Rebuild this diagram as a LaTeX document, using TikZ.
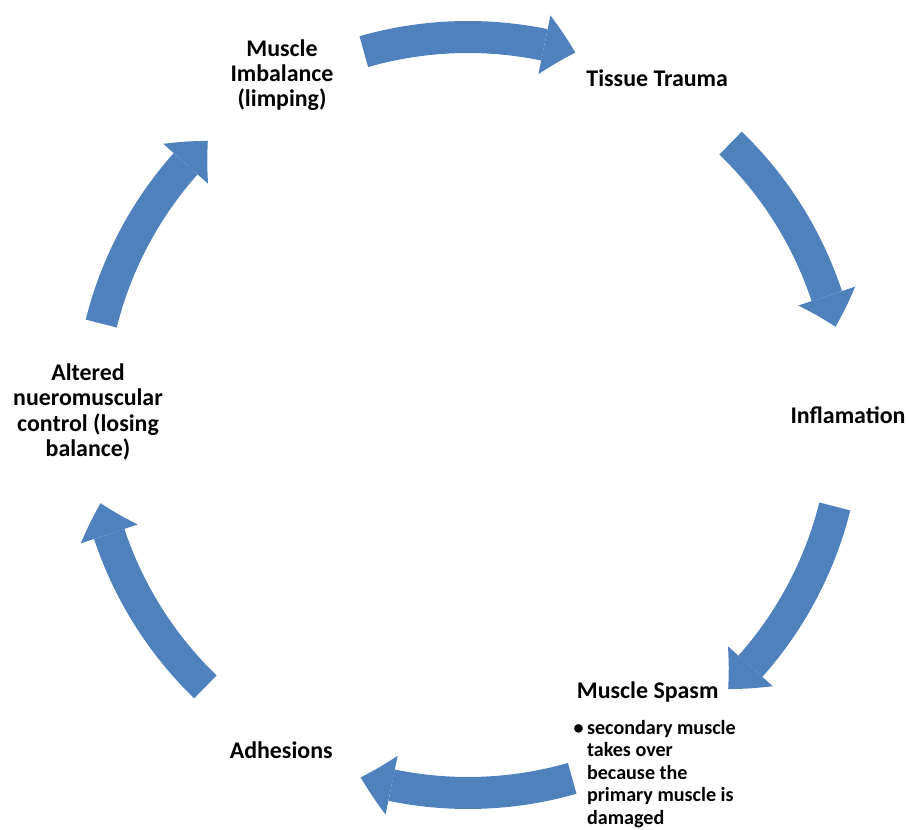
\documentclass[tikz,border=0pt]{standalone}
\usepackage{fontspec}
\setmainfont{Carlito}
\usetikzlibrary{arrows.meta,bending,positioning,calc}
\definecolor{ac}{RGB}{79,129,189}
\tikzset{lbl/.style={font=\bfseries\fontsize{17}{18}\selectfont,align=center},
 note/.style={font=\bfseries\fontsize{14.3}{16}\selectfont,inner sep=0pt},
 cyc/.style={draw=ac,line width=0.8cm,-{Triangle[width=1.5cm,length=0.8cm,line width=0pt,bend]}}}

\begin{document}
\begin{tikzpicture}
\useasboundingbox (0,0) rectangle (22.75,20.725);
\coordinate (ctr) at (11.7,10.35);
% cycle arrows, clockwise
\foreach \a in {90,30,-30,-90,-150,150}
  \draw[cyc] ($(ctr)+(\a+16:9.45)$) arc[start angle=\a+16,end angle=\a-16.5,radius=9.45];
% stages
\node[lbl] (trauma) at (16.43,18.78) {Tissue Trauma};
\node[lbl] (inflam) at (21.2,10.35) {Inflamation};
\node[lbl,anchor=west] (spasm) at (14.3,3.43) {Muscle Spasm};
\node[note,below right=8pt and 1pt of spasm.south west] (spasmnote)
  {\begin{tabular}{@{}l@{\,}l@{}}•&secondary muscle\\&takes over\\&because the\\&primary muscle is\\&damaged\end{tabular}};
\node[lbl] (adhesions) at (7.03,1.98) {Adhesions};
\node[lbl] (altered) at (2.2,10.43) {Altered\\nueromuscular\\control (losing\\balance)};
\node[lbl] (imbalance) at (7.05,18.85) {Muscle\\Imbalance\\(limping)};
\end{tikzpicture}
\end{document}
